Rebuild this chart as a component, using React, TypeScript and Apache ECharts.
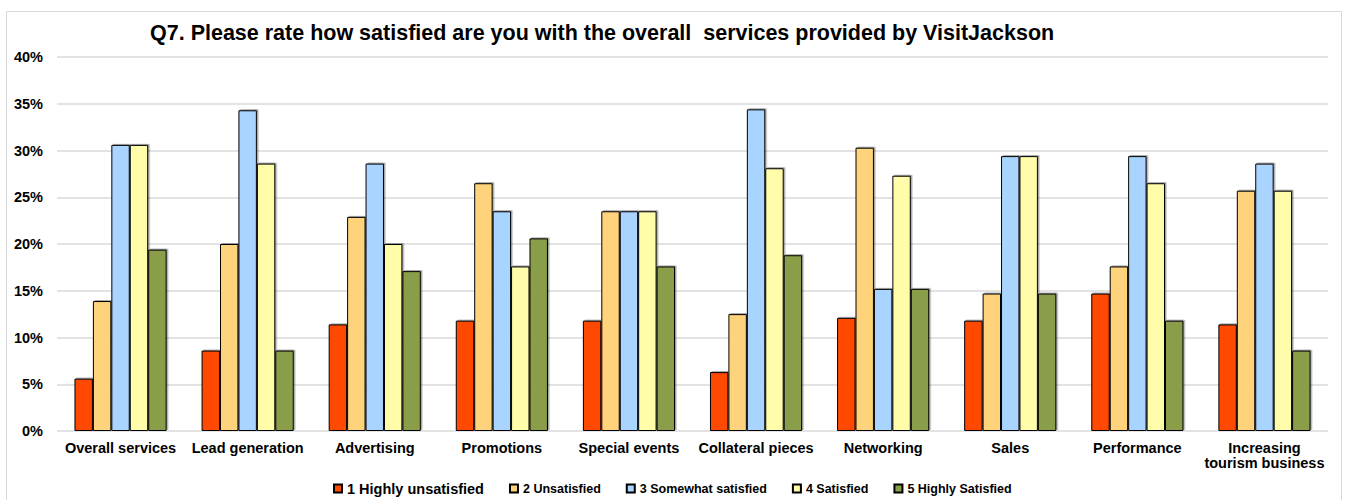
import React, { useEffect, useRef } from "react";
import * as echarts from "echarts";

const categories = [
  "Overall services",
  "Lead generation",
  "Advertising",
  "Promotions",
  "Special events",
  "Collateral pieces",
  "Networking",
  "Sales",
  "Performance",
  "Increasing\ntourism business",
];

const seriesNames = [
  "1 Highly unsatisfied",
  "2 Unsatisfied",
  "3 Somewhat satisfied",
  "4 Satisfied",
  "5 Highly Satisfied",
];

const highlyUnsatisfied = [5.6, 8.6, 11.4, 11.8, 11.8, 6.3, 12.1, 11.8, 14.7, 11.4];
const unsatisfied = [13.9, 20.0, 22.9, 26.5, 23.5, 12.5, 30.3, 14.7, 17.6, 25.7];
const somewhatSatisfied = [30.6, 34.3, 28.6, 23.5, 23.5, 34.4, 15.2, 29.4, 29.4, 28.6];
const satisfied = [30.6, 28.6, 20.0, 17.6, 23.5, 28.1, 27.3, 29.4, 26.5, 25.7];
const highlySatisfied = [19.4, 8.6, 17.1, 20.6, 17.6, 18.8, 15.2, 14.7, 11.8, 8.6];

const yTicks = [0, 5, 10, 15, 20, 25, 30, 35, 40];

const colors = ["#FF4A00", "#FFD37C", "#A9D4FF", "#FFFCAA", "#8A9D4A"];

const FONT = "'Liberation Sans', Arial, Helvetica, sans-serif";

export default function App() {
  const ref = useRef<HTMLDivElement>(null);

  useEffect(() => {
    if (!ref.current) return;
    const chart = echarts.init(ref.current, null, { renderer: "svg" });
    const values = [highlyUnsatisfied, unsatisfied, somewhatSatisfied, satisfied, highlySatisfied];
    chart.setOption({
      animation: false,
      backgroundColor: "#ffffff",
      textStyle: { fontFamily: FONT },
      title: {
        text: "Q7. Please rate how satisfied are you with the overall  services provided by VisitJackson",
        left: 145,
        top: 17,
        textStyle: { fontFamily: FONT, fontSize: 21.5, fontWeight: "bold", color: "#000" },
      },
      graphic: [
        {
          type: "rect",
          shape: { x: 6.5, y: 11.5, width: 1335, height: 520 },
          style: { fill: "none", stroke: "#d9d9d9", lineWidth: 1 },
          silent: true,
          z: -1,
        },
      ],
      legend: {
        left: 328,
        top: 476,
        itemWidth: 8,
        itemHeight: 8,
        itemGap: 25,
        icon: "rect",
        textStyle: { fontFamily: FONT, fontSize: 12.5, fontWeight: "bold", color: "#000" },
        data: seriesNames.map((n, i) =>
          i === 0 ? { name: n, textStyle: { fontSize: 14.5, fontWeight: "bold" } } : { name: n }
        ),
      },
      grid: { left: 57, right: 17, top: 57, bottom: 69, containLabel: false },
      xAxis: {
        type: "category",
        data: categories,
        axisLine: { show: false },
        axisTick: { show: false },
        axisLabel: {
          interval: 0,
          margin: 9,
          fontFamily: FONT,
          fontSize: 14.5,
          fontWeight: "bold",
          color: "#000",
          lineHeight: 15,
        },
      },
      yAxis: {
        type: "value",
        min: yTicks[0],
        max: yTicks[yTicks.length - 1],
        interval: 5,
        axisLine: { show: false },
        axisTick: { show: false },
        splitLine: { lineStyle: { color: "#e3e3e3", width: 2 } },
        axisLabel: {
          formatter: "{value}%",
          margin: 14,
          fontFamily: FONT,
          fontSize: 14.5,
          fontWeight: "bold",
          color: "#000",
        },
      },
      series: seriesNames.map((name, i) => ({
        name,
        type: "bar",
        data: values[i],
        barGap: "0%",
        barCategoryGap: "27.5%",
        itemStyle: {
          color: colors[i],
          borderColor: "#000",
          borderWidth: 1,
          shadowColor: "rgba(0,0,0,0.35)",
          shadowOffsetX: 1.5,
          shadowOffsetY: -1,
          shadowBlur: 0,
        },
      })),
    });
    return () => chart.dispose();
  }, []);

  return (
    <div
      ref={ref}
      style={{ position: "fixed", left: 0, top: 0, width: 1345, height: 500 }}
    />
  );
}
